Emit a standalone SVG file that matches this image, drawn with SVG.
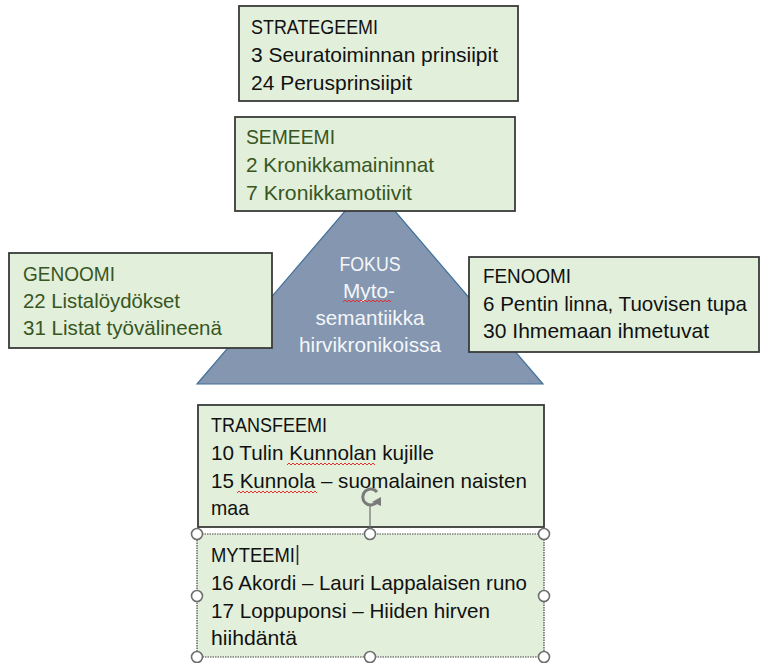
<svg xmlns="http://www.w3.org/2000/svg" width="760" height="663" viewBox="0 0 760 663">
<style>
.box{fill:#e2efda;stroke:#3a3a3a;stroke-width:1.8}
.sel{fill:#e2efda;stroke:#444;stroke-width:1.2;stroke-dasharray:1.5 1}
.t{font-family:"Liberation Sans",Arial,sans-serif;font-size:21px;fill:#111}
.g{fill:#375623}
.w{fill:#f4f6fa;text-anchor:middle}
.h{fill:#fff;stroke:#6e6e6e;stroke-width:1.6}
.sq{fill:none;stroke:#e03030;stroke-width:1}
</style>
<rect width="760" height="663" fill="#fff"/>
<g id="fokus">
<polygon points="370,182 197,384 543,384" fill="#8496b0" stroke="#41719c" stroke-width="1.2"/>
<text class="t w" x="370" y="271" textLength="61" lengthAdjust="spacingAndGlyphs">FOKUS</text>
<text class="t w" x="369" y="298" textLength="52" lengthAdjust="spacingAndGlyphs">Myto-</text>
<text class="t w" x="370" y="325" textLength="109" lengthAdjust="spacingAndGlyphs">semantiikka</text>
<text class="t w" x="370" y="352" textLength="142" lengthAdjust="spacingAndGlyphs">hirvikronikoissa</text>
<polyline class="sq" points="343,302 345,300 347,302 349,300 351,302 353,300 355,302 357,300 359,302 361,300 363,302 365,300 367,302 369,300 371,302 373,300 375,302 377,300 379,302 381,300 383,302 385,300 387,302 389,300 391,302"/>
</g>
<g id="strategeemi">
<rect class="box" x="239" y="6" width="279" height="95"/>
<text class="t" x="251" y="34" textLength="127" lengthAdjust="spacingAndGlyphs">STRATEGEEMI</text>
<text class="t" x="251" y="62" textLength="247" lengthAdjust="spacingAndGlyphs">3 Seuratoiminnan prinsiipit</text>
<text class="t" x="251" y="90" textLength="161" lengthAdjust="spacingAndGlyphs">24 Perusprinsiipit</text>
</g>
<g id="semeemi">
<rect class="box" x="235" y="117" width="280" height="94"/>
<text class="t g" x="246" y="144" textLength="89" lengthAdjust="spacingAndGlyphs">SEMEEMI</text>
<text class="t g" x="246" y="172" textLength="188" lengthAdjust="spacingAndGlyphs">2 Kronikkamaininnat</text>
<text class="t g" x="246" y="200" textLength="166" lengthAdjust="spacingAndGlyphs">7 Kronikkamotiivit</text>
</g>
<g id="genoomi">
<rect class="box" x="9" y="253" width="263" height="95"/>
<text class="t g" x="23" y="281" textLength="92" lengthAdjust="spacingAndGlyphs">GENOOMI</text>
<text class="t g" x="23" y="308" textLength="157" lengthAdjust="spacingAndGlyphs">22 Listalöydökset</text>
<text class="t g" x="23" y="335" textLength="199" lengthAdjust="spacingAndGlyphs">31 Listat työvälineenä</text>
</g>
<g id="fenoomi">
<rect class="box" x="469" y="257" width="290" height="95"/>
<text class="t" x="483" y="283" textLength="88" lengthAdjust="spacingAndGlyphs">FENOOMI</text>
<text class="t" x="483" y="311" textLength="264" lengthAdjust="spacingAndGlyphs">6 Pentin linna, Tuovisen tupa</text>
<text class="t" x="483" y="338" textLength="226" lengthAdjust="spacingAndGlyphs">30 Ihmemaan ihmetuvat</text>
</g>
<g id="transfeemi">
<rect class="box" x="198" y="405" width="346" height="122"/>
<text class="t" x="211" y="432" textLength="116" lengthAdjust="spacingAndGlyphs">TRANSFEEMI</text>
<text class="t" x="211" y="460" textLength="223" lengthAdjust="spacingAndGlyphs">10 Tulin Kunnolan kujille</text>
<text class="t" x="211" y="488" textLength="316" lengthAdjust="spacingAndGlyphs">15 Kunnola – suomalainen naisten</text>
<text class="t" x="211" y="515" textLength="38" lengthAdjust="spacingAndGlyphs">maa</text>
<polyline class="sq" points="287,465 289,463 291,465 293,463 295,465 297,463 299,465 301,463 303,465 305,463 307,465 309,463 311,465 313,463 315,465 317,463 319,465 321,463 323,465 325,463 327,465 329,463 331,465 333,463 335,465 337,463 339,465 341,463 343,465 345,463 347,465 349,463 351,465 353,463 355,465 357,463 359,465 361,463 363,465 365,463 367,465 369,463 371,465 373,463 375,465"/>
<polyline class="sq" points="237,493 239,491 241,493 243,491 245,493 247,491 249,493 251,491 253,493 255,491 257,493 259,491 261,493 263,491 265,493 267,491 269,493 271,491 273,493 275,491 277,493 279,491 281,493 283,491 285,493 287,491 289,493 291,491 293,493 295,491 297,493 299,491 301,493 303,491 305,493 307,491 309,493 311,491 313,493 315,491 317,493"/>
</g>
<g id="myteemi">
<rect class="sel" x="197" y="534" width="347" height="123"/>
<text class="t" x="211" y="562" textLength="84" lengthAdjust="spacingAndGlyphs">MYTEEMI</text>
<text class="t" x="211" y="590" textLength="316" lengthAdjust="spacingAndGlyphs">16 Akordi – Lauri Lappalaisen runo</text>
<text class="t" x="211" y="618" textLength="279" lengthAdjust="spacingAndGlyphs">17 Loppuponsi – Hiiden hirven</text>
<text class="t" x="211" y="645" textLength="86" lengthAdjust="spacingAndGlyphs">hiihdäntä</text>
<line x1="297.5" y1="545" x2="297.5" y2="565" stroke="#333" stroke-width="1.6"/>
<line x1="370" y1="505" x2="370" y2="534" stroke="#6e6e6e" stroke-width="1.2"/>
<path d="M377,492 A8,8 0 1 0 377,502" fill="none" stroke="#7a7a7a" stroke-width="3"/>
<polygon points="372,502 381,497 381,506" fill="#7a7a7a"/>
<circle class="h" cx="197" cy="534" r="5.5"/>
<circle class="h" cx="370" cy="534" r="5.5"/>
<circle class="h" cx="544" cy="534" r="5.5"/>
<circle class="h" cx="197" cy="596" r="5.5"/>
<circle class="h" cx="544" cy="596" r="5.5"/>
<circle class="h" cx="197" cy="657" r="5.5"/>
<circle class="h" cx="370" cy="657" r="5.5"/>
<circle class="h" cx="544" cy="657" r="5.5"/>
</g>
<g id="connectors"/>
</svg>
